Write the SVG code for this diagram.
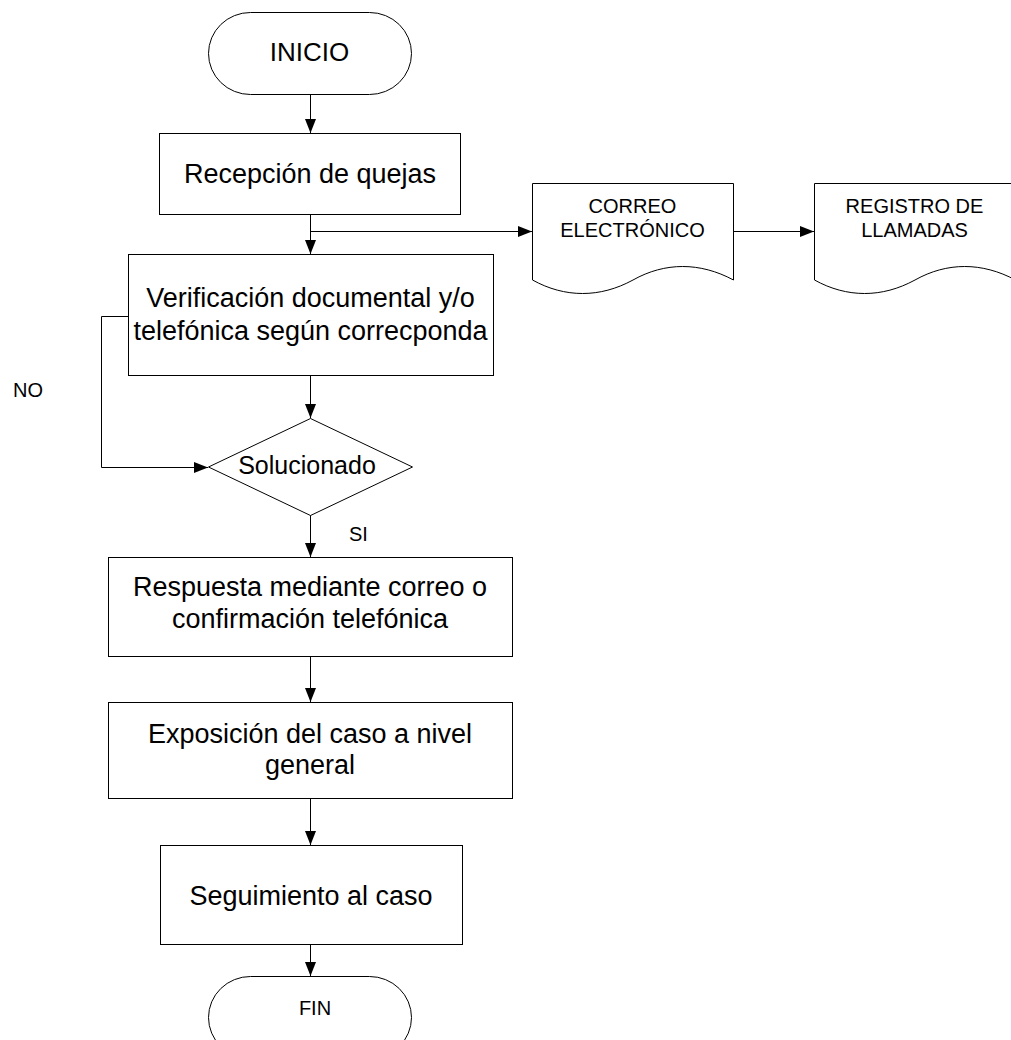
<svg xmlns="http://www.w3.org/2000/svg" width="1011" height="1040" viewBox="0 0 1011 1040">
<style>
.s{fill:#fff;stroke:#000;stroke-width:1}
.c{fill:none;stroke:#000;stroke-width:1}
.t{font-family:"Liberation Sans",Arial,sans-serif;fill:#000;text-anchor:middle}
.L{font-size:27px}
.M{font-size:20px}
</style>
<defs>
<marker id="ah" markerUnits="userSpaceOnUse" markerWidth="15" markerHeight="12" refX="14" refY="5.5" orient="auto">
<path d="M0,0 L14,5.5 L0,11 Z" fill="#000"/>
</marker>
</defs>
<rect width="1011" height="1040" fill="#fff"/>
<g id="connectors">
<path class="c" d="M310.5,94 V133" marker-end="url(#ah)"/>
<path class="c" d="M310.5,215 V254" marker-end="url(#ah)"/>
<path class="c" d="M310.5,231.5 H532" marker-end="url(#ah)"/>
<path class="c" d="M733,231.5 H814" marker-end="url(#ah)"/>
<path class="c" d="M310.5,376 V418" marker-end="url(#ah)"/>
<path class="c" d="M128,316.5 H101.5 V467.5 H208" marker-end="url(#ah)"/>
<path class="c" d="M310.5,515 V557" marker-end="url(#ah)"/>
<path class="c" d="M310.5,657 V702" marker-end="url(#ah)"/>
<path class="c" d="M310.5,798 V845" marker-end="url(#ah)"/>
<path class="c" d="M310.5,944 V976" marker-end="url(#ah)"/>
</g>
<g id="inicio">
<rect class="s" x="208.5" y="12.5" width="203" height="82" rx="42" ry="41"/>
<text class="t" x="309.5" y="61" font-size="26">INICIO</text>
</g>
<g id="recepcion">
<rect class="s" x="159.5" y="133.5" width="301" height="81"/>
<text class="t L" x="310" y="183">Recepción de quejas</text>
</g>
<g id="correo">
<path class="s" d="M532.5,183.5 H733.5 V280 C700,262 665,262 633,280 C600,298 565,298 532.5,280 Z"/>
<text class="t M" x="632.5" y="213">CORREO</text>
<text class="t M" x="632.5" y="237">ELECTRÓNICO</text>
</g>
<g id="registro">
<path class="s" d="M814.5,183.5 H1015.5 V280 C982,262 947,262 915,280 C882,298 847,298 814.5,280 Z"/>
<text class="t M" x="914.5" y="213">REGISTRO DE</text>
<text class="t M" x="914.5" y="237">LLAMADAS</text>
</g>
<g id="verificacion">
<rect class="s" x="128.5" y="254.5" width="365" height="121"/>
<text class="t L" x="310.5" y="307">Verificación documental y/o</text>
<text class="t L" x="310.5" y="340">telefónica según correcponda</text>
</g>
<g id="solucionado">
<path class="s" d="M310.5,418.5 L412.5,467 L310.5,515.5 L208.5,467 Z"/>
<text class="t" x="307" y="474" font-size="25">Solucionado</text>
</g>
<g id="label-no"><text class="t M" x="13" y="397" style="text-anchor:start">NO</text></g>
<g id="label-si"><text class="t M" x="349" y="541" style="text-anchor:start">SI</text></g>
<g id="respuesta">
<rect class="s" x="108.5" y="557.5" width="404" height="99"/>
<text class="t L" x="310" y="596">Respuesta mediante correo o</text>
<text class="t L" x="310" y="628">confirmación telefónica</text>
</g>
<g id="exposicion">
<rect class="s" x="108.5" y="702.5" width="404" height="96"/>
<text class="t L" x="310" y="743">Exposición del caso a nivel</text>
<text class="t L" x="310" y="774">general</text>
</g>
<g id="seguimiento">
<rect class="s" x="160.5" y="845.5" width="302" height="99"/>
<text class="t L" x="311" y="905">Seguimiento al caso</text>
</g>
<g id="fin">
<rect class="s" x="208.5" y="976.5" width="203" height="82" rx="42" ry="41"/>
<text class="t M" x="315" y="1015">FIN</text>
</g>
</svg>
